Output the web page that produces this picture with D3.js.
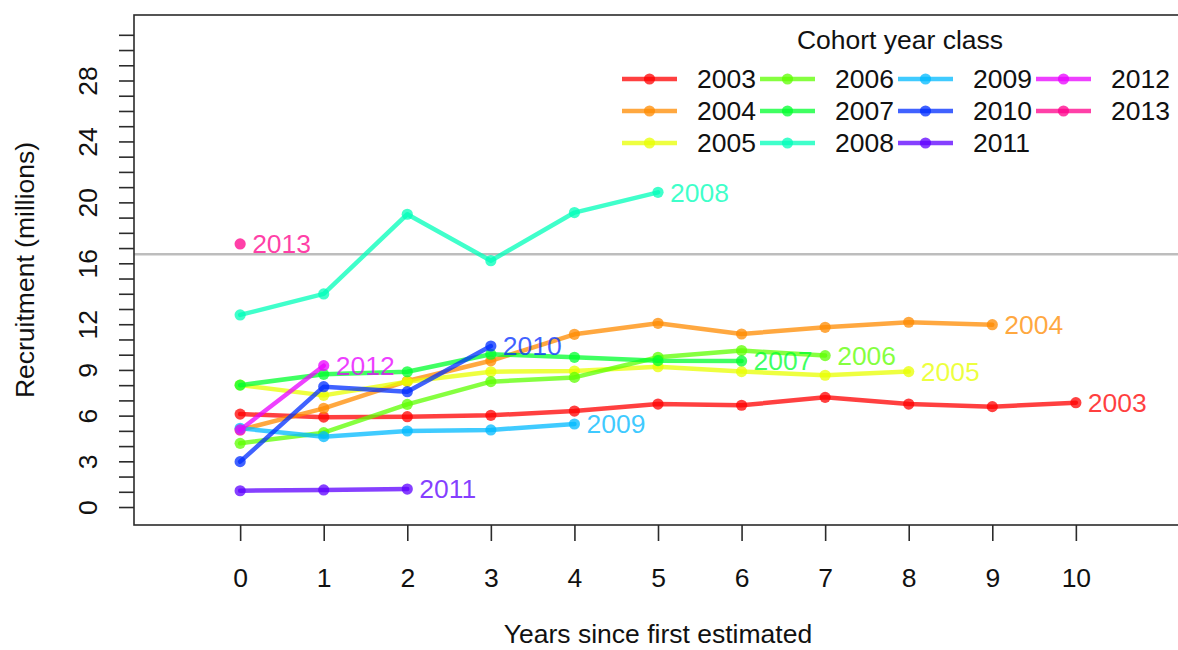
<!DOCTYPE html>
<html>
<head>
<meta charset="utf-8">
<script src="https://cdn.jsdelivr.net/npm/d3@7"></script>
<style>
  html, body { margin: 0; padding: 0; background: #fff; }
  svg { display: block; font-family: "Liberation Sans", Arial, sans-serif; }
</style>
</head>
<body>
<svg id="chart" width="1178" height="650"></svg>
<script>
// Cohort year classes and their recruitment estimates (millions),
// indexed by years since the cohort was first estimated.
const cohorts = ["2003", "2004", "2005", "2006", "2007", "2008", "2009", "2010", "2011", "2012", "2013"];
const r2003 = [6.1, 5.9, 5.93, 6.02, 6.3, 6.76, 6.68, 7.2, 6.76, 6.59, 6.85];
const r2004 = [5.06, 6.48, 8.27, 9.6, 11.34, 12.06, 11.36, 11.8, 12.13, 11.97];
const r2005 = [8.01, 7.33, 8.23, 8.88, 8.93, 9.21, 8.89, 8.65, 8.89];
const r2006 = [4.18, 4.88, 6.74, 8.23, 8.51, 9.83, 10.27, 9.94];
const r2007 = [8.0, 8.71, 8.88, 10.03, 9.83, 9.61, 9.59];
const r2008 = [12.61, 13.99, 19.22, 16.17, 19.33, 20.66];
const r2009 = [5.17, 4.62, 4.99, 5.06, 5.45];
const r2010 = [2.98, 7.9, 7.57, 10.57];
const r2011 = [1.07, 1.12, 1.18];
const r2012 = [5.06, 9.28];
const r2013 = [17.27];
const seriesValues = [r2003, r2004, r2005, r2006, r2007, r2008, r2009, r2010, r2011, r2012, r2013];

// Horizontal reference level
const refLevel = 16.6;

// Axis ticks and labels
const xTicks = [0, 1, 2, 3, 4, 5, 6, 7, 8, 9, 10];
const yTicks = d3.range(0, 32);
const yTickLabels = [0, 3, 6, 9, 12, 16, 20, 24, 28];

// Rainbow palette, one hue per cohort
const palette = ["#FF0000", "#FF8B00", "#E8FF00", "#5DFF00", "#00FF2E", "#00FFB9",
                 "#00B9FF", "#002EFF", "#5D00FF", "#E800FF", "#FF008B"];
const alpha = 0.75;

const svg = d3.select("#chart");
const FONT = 26.5;

const plot = { left: 134, right: 1182, top: 15, bottom: 525 };
const x = d3.scaleLinear().domain([-1.27, 11.27]).range([plot.left, plot.right]);
const y = d3.scaleLinear().domain([-1.18, 32.3]).range([plot.bottom, plot.top]);

const col = (i) => {
  const c = d3.color(palette[i]);
  c.opacity = alpha;
  return c.formatRgb();
};

// Reference line
svg.append("line")
  .attr("x1", plot.left).attr("x2", plot.right)
  .attr("y1", y(refLevel)).attr("y2", y(refLevel))
  .attr("stroke", "#bdbdbd").attr("stroke-width", 2.5);

// Series: lines, points and end labels
const line = d3.line().x((d, i) => x(i)).y(d => y(d));
const series = cohorts.map((name, k) => ({ name, values: seriesValues[k], k }));

series.forEach(s => {
  const g = svg.append("g");
  if (s.values.length > 1) {
    g.append("path")
      .attr("d", line(s.values))
      .attr("fill", "none")
      .attr("stroke", col(s.k))
      .attr("stroke-width", 4.5)
      .attr("stroke-linejoin", "round")
      .attr("stroke-linecap", "round");
  }
  g.selectAll("circle")
    .data(s.values)
    .join("circle")
    .attr("cx", (d, i) => x(i))
    .attr("cy", d => y(d))
    .attr("r", 5.6)
    .attr("fill", col(s.k));
  const last = s.values.length - 1;
  g.append("text")
    .attr("x", x(last) + 12)
    .attr("y", y(s.values[last]))
    .attr("dy", "0.35em")
    .attr("font-size", FONT)
    .attr("fill", col(s.k))
    .text(s.name);
});

// Plot frame
svg.append("rect")
  .attr("x", plot.left).attr("y", plot.top)
  .attr("width", plot.right - plot.left).attr("height", plot.bottom - plot.top)
  .attr("fill", "none").attr("stroke", "#2b2b2b").attr("stroke-width", 1.6);

// X axis
const xAxis = svg.append("g")
  .attr("transform", `translate(0,${plot.bottom})`)
  .call(d3.axisBottom(x).tickValues(xTicks).tickSize(16).tickSizeOuter(0).tickPadding(27));
xAxis.select(".domain").remove();
xAxis.selectAll(".tick line").attr("stroke", "#2b2b2b").attr("stroke-width", 1.6);
xAxis.selectAll(".tick text")
  .attr("font-size", FONT).attr("font-family", "Liberation Sans, Arial, sans-serif")
  .attr("fill", "#111");

// Y axis
const yAxis = svg.append("g")
  .attr("transform", `translate(${plot.left},0)`)
  .call(d3.axisLeft(y).tickValues(yTicks).tickSize(15).tickSizeOuter(0)
    .tickFormat(d => yTickLabels.includes(d) ? String(d) : ""));
yAxis.select(".domain").remove();
yAxis.selectAll(".tick line").attr("stroke", "#2b2b2b").attr("stroke-width", 1.6);
yAxis.selectAll(".tick text")
  .attr("transform", "rotate(-90)")
  .attr("x", 0).attr("y", -46).attr("dy", "0.35em")
  .attr("text-anchor", "middle")
  .attr("font-size", FONT).attr("font-family", "Liberation Sans, Arial, sans-serif")
  .attr("fill", "#111");

// Axis titles
svg.append("text")
  .attr("x", (plot.left + plot.right) / 2).attr("y", 634).attr("dy", "0.35em")
  .attr("text-anchor", "middle").attr("font-size", FONT).attr("fill", "#111")
  .text("Years since first estimated");
svg.append("text")
  .attr("transform", `translate(25,${(plot.top + plot.bottom) / 2}) rotate(-90)`)
  .attr("dy", "0.35em")
  .attr("text-anchor", "middle").attr("font-size", FONT).attr("fill", "#111")
  .text("Recruitment (millions)");

// Legend
const legend = svg.append("g");
legend.append("text")
  .attr("x", 900).attr("y", 40).attr("dy", "0.35em")
  .attr("text-anchor", "middle").attr("font-size", FONT).attr("fill", "#111")
  .text("Cohort year class");
series.forEach(s => {
  const c = Math.floor(s.k / 3), r = s.k % 3;
  const ox = 622 + 138 * c, oy = 79 + 32 * r;
  legend.append("line")
    .attr("x1", ox).attr("x2", ox + 55).attr("y1", oy).attr("y2", oy)
    .attr("stroke", col(s.k)).attr("stroke-width", 4.5);
  legend.append("circle")
    .attr("cx", ox + 27.5).attr("cy", oy).attr("r", 5.6).attr("fill", col(s.k));
  legend.append("text")
    .attr("x", ox + 75).attr("y", oy).attr("dy", "0.35em")
    .attr("font-size", FONT).attr("fill", "#111")
    .text(s.name);
});
</script>
</body>
</html>
